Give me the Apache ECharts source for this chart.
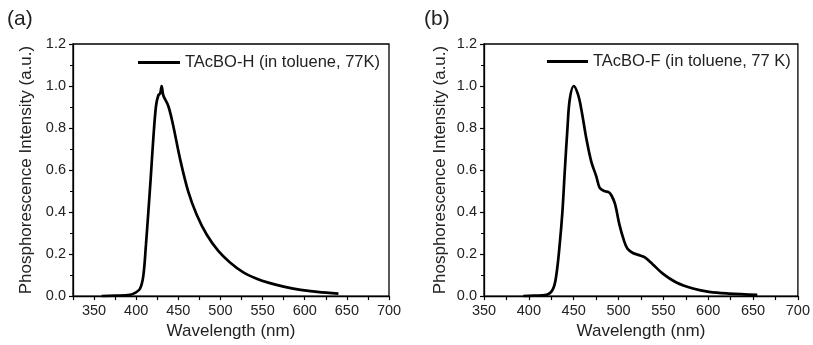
<!DOCTYPE html>
<html>
<head>
<meta charset="utf-8">
<script src="https://cdn.jsdelivr.net/npm/echarts@6/dist/echarts.min.js"></script>
<style>
html,body{margin:0;padding:0;background:#fff;}
#c{width:813px;height:345px;}
</style>
</head>
<body>
<div id="c"></div>
<script>
// Panel (a): TAcBO-H
const wavelengthA = [359, 375, 392.6, 398.6, 404.5, 408.4, 411.6, 414.4, 417.2, 420.3, 423.5, 426.2, 428.5, 430.2, 432.2, 438.1, 444, 452, 461.8, 471.8, 483.6, 497.4, 511.3, 527.1, 543, 556.7, 575, 595, 615, 640];
const intensityA  = [0.0, 0.002, 0.006, 0.015, 0.035, 0.095, 0.246, 0.40, 0.56, 0.75, 0.905, 0.955, 0.965, 1.0, 0.955, 0.905, 0.81, 0.654, 0.497, 0.387, 0.293, 0.215, 0.16, 0.113, 0.083, 0.064, 0.045, 0.03, 0.02, 0.012];
// Panel (b): TAcBO-F
const wavelengthB = [393.7, 405, 419.7, 427, 430.8, 434.4, 437.4, 440, 443, 445.6, 450, 454.8, 458.5, 464.1, 469.6, 475.2, 479, 484, 489, 492, 496, 501, 506, 510, 516, 523, 529, 538, 549, 564, 583, 601, 623, 654.7];
const intensityB  = [0.0, 0.002, 0.006, 0.034, 0.105, 0.246, 0.40, 0.59, 0.795, 0.936, 1.0, 0.96, 0.89, 0.75, 0.64, 0.57, 0.515, 0.50, 0.495, 0.48, 0.44, 0.34, 0.265, 0.225, 0.205, 0.195, 0.185, 0.152, 0.108, 0.066, 0.036, 0.02, 0.012, 0.006];

const seriesNames = ['TAcBO-H (in toluene, 77K)', 'TAcBO-F (in toluene, 77 K)'];
const panelLabels = ['(a)', '(b)'];
const xTickLabels = [350, 400, 450, 500, 550, 600, 650, 700];
const yTickLabels = [0.0, 0.2, 0.4, 0.6, 0.8, 1.0, 1.2];

const FONT = '"Liberation Sans", Arial, sans-serif';
const TXT = '#222';

function zip(xs, ys){ return xs.map((x,i)=>[x, ys[i]]); }

function xAxis(gi, min){
  return {
    type:'value', gridIndex: gi, min: min, max: 700, interval: 25,
    name: 'Wavelength (nm)', nameLocation:'middle', nameGap: 25,
    nameTextStyle:{fontFamily:FONT, fontSize:17, color:TXT},
    axisLine:{show:true, onZero:false, lineStyle:{color:'#000', width:1.3}},
    axisTick:{show:true, length:4, lineStyle:{color:'#000', width:1.2}},
    axisLabel:{fontFamily:FONT, fontSize:14.5, color:TXT, margin:7,
      formatter: v => xTickLabels.includes(v) ? String(v) : ''},
    splitLine:{show:false}
  };
}
function yAxis(gi, gap){
  return {
    type:'value', gridIndex: gi, min: 0, max: 1.2, interval: 0.2,
    name: 'Phosphorescence Intensity (a.u.)', nameLocation:'middle', nameGap: gap,
    nameTextStyle:{fontFamily:FONT, fontSize:17, color:TXT},
    axisLine:{show:true, onZero:false, lineStyle:{color:'#000', width:1.3}},
    axisTick:{show:true, length:4, lineStyle:{color:'#000', width:1.2}},
    minorTick:{show:true, splitNumber:2, length:3, lineStyle:{color:'#000', width:1}},
    axisLabel:{fontFamily:FONT, fontSize:14.5, color:TXT, margin:7,
      formatter: v => yTickLabels.some(t => Math.abs(t - v) < 1e-6) ? v.toFixed(1) : ''},
    splitLine:{show:false}
  };
}

const chart = echarts.init(document.getElementById('c'), null, {renderer:'canvas'});
chart.setOption({
  animation:false,
  backgroundColor:'#fff',
  title:[
    {text:panelLabels[0], left:7, top:9, padding:0, textStyle:{fontFamily:FONT, fontSize:21, fontWeight:'normal', color:TXT}},
    {text:panelLabels[1], left:424, top:9, padding:0, textStyle:{fontFamily:FONT, fontSize:21, fontWeight:'normal', color:TXT}}
  ],
  grid:[
    {left:73, top:44, width:316, height:255, show:true, borderColor:'#000', borderWidth:1.3, backgroundColor:'transparent'},
    {left:484, top:44, width:315, height:255, show:true, borderColor:'#000', borderWidth:1.3, backgroundColor:'transparent'}
  ],
  legend:[
    {data:[seriesNames[0]], left:138, top:54, padding:0, icon:'rect', itemWidth:42, itemHeight:3,
      textStyle:{fontFamily:FONT, fontSize:16.5, color:TXT}},
    {data:[seriesNames[1]], left:547, top:53, padding:0, icon:'rect', itemWidth:41, itemHeight:3,
      textStyle:{fontFamily:FONT, fontSize:16.5, color:TXT}}
  ],
  xAxis:[xAxis(0, 325), xAxis(1, 350)],
  yAxis:[yAxis(0, 38), yAxis(1, 35)],
  series:[
    {name:seriesNames[0], type:'line', xAxisIndex:0, yAxisIndex:0, data:zip(wavelengthA, intensityA),
      smooth:0.35, showSymbol:false, symbol:'none', itemStyle:{color:'#000'}, lineStyle:{color:'#000', width:2.7}},
    {name:seriesNames[1], type:'line', xAxisIndex:1, yAxisIndex:1, data:zip(wavelengthB, intensityB),
      smooth:0.35, showSymbol:false, symbol:'none', itemStyle:{color:'#000'}, lineStyle:{color:'#000', width:2.7}}
  ]
});
</script>
</body>
</html>
